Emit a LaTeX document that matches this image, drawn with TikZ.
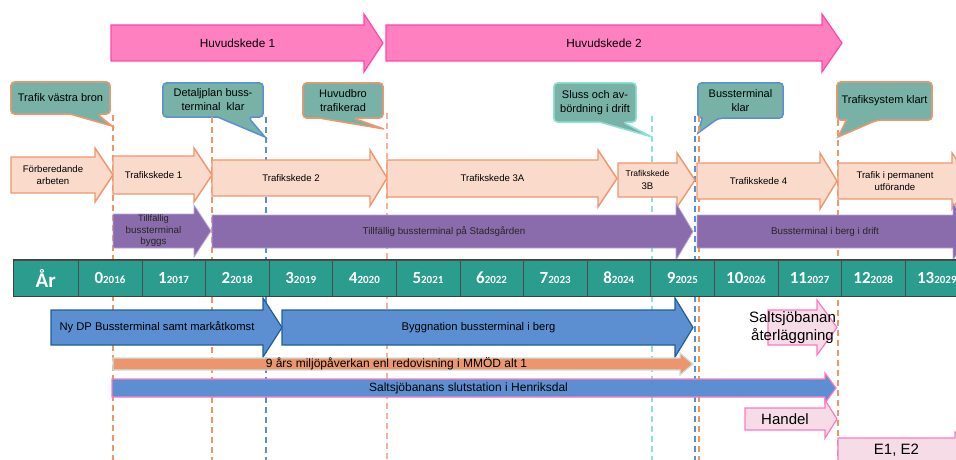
\documentclass[tikz,border=0pt]{standalone}
\usepackage{fontspec}
\setmainfont{Liberation Sans}
\newfontfamily\kalibri{Carlito}
\usetikzlibrary{calc,backgrounds}

\definecolor{huvudrosa}{RGB}{255,128,192}
\definecolor{huvudkant}{RGB}{255,70,170}
\definecolor{kedefyll}{RGB}{250,218,203}
\definecolor{kedekant}{RGB}{240,150,110}
\definecolor{lila}{RGB}{138,108,172}
\definecolor{lilakant}{RGB}{185,165,212}
\definecolor{blafyll}{RGB}{91,143,210}
\definecolor{blakant}{RGB}{30,95,150}
\definecolor{laxfyll}{RGB}{237,150,110}
\definecolor{laxkant}{RGB}{200,225,220}
\definecolor{ljusrosa}{RGB}{245,220,230}
\definecolor{rosakant}{RGB}{255,120,195}
\definecolor{bubbelgron}{RGB}{120,178,166}
\definecolor{arteal}{RGB}{42,157,143}
\definecolor{markorange}{RGB}{240,150,100}
\definecolor{markljus}{RGB}{245,180,155}
\definecolor{markbla}{RGB}{91,143,210}
\definecolor{markcyan}{RGB}{142,227,216}

\tikzset{
  huvud/.style={draw=huvudkant, fill=huvudrosa, line width=1.2pt},
  huvud text/.style={font=\fontsize{11.8}{13}\selectfont},
  kede/.style={draw=kedekant, fill=kedefyll, line width=1.4pt},
  kede text/.style={font=\fontsize{9.6}{12.5}\selectfont, align=center},
  lila/.style={draw=lilakant, fill=lila, line width=.8pt},
  lila text/.style={font=\fontsize{9.8}{11.5}\selectfont, align=center, text=black!85},
  bla/.style={draw=blakant, fill=blafyll, line width=1.2pt},
  bla text/.style={font=\fontsize{11.2}{12}\selectfont},
  lax/.style={draw=laxkant, fill=laxfyll, line width=1.2pt},
  lax text/.style={font=\fontsize{12}{12}\selectfont},
  salt/.style={draw=rosakant, fill=blafyll, line width=1.2pt},
  salt text/.style={font=\fontsize{12}{12}\selectfont},
  rosa/.style={draw=rosakant, fill=ljusrosa, line width=1.2pt},
  rosa text/.style={font=\fontsize{15}{18}\selectfont, align=center},
  arcell/.style={draw=black!70, fill=arteal, text=white, minimum width=63.6,
    minimum height=36, inner sep=0, font=\kalibri\bfseries},
  milstolpe/.style={line width=2.4pt, dash pattern=on 6pt off 4pt},
  bubbeltext/.style={inner sep=0, align=center, font=\fontsize{11}{14}\selectfont},
  bubbla orange/.style={fill=bubbelgron, draw=kedekant, line width=1.5pt},
  bubbla bla/.style={fill=bubbelgron, draw=markbla, line width=1.5pt},
  bubbla cyan/.style={fill=bubbelgron, draw=markcyan, line width=1.5pt}
}

% stor pil: stil, namn, x vanster, x hals, x spets, y topp, y botten, huvudets overhang, text
\newcommand{\pil}[9]{%
  \draw[#1] (#3,#6) -- (#4,#6) -- (#4,#6-#8) -- (#5,{(#6+#7)/2}) -- (#4,#7+#8) -- (#4,#7) -- (#3,#7) -- cycle;
  \node[#1 text] (#2) at ({(#3+#4)/2},{(#6+#7)/2}) {#9};
}
% pratbubbla runt en nod: stil, nod, bas fran, bas till (andel av underkanten), spets
\newcommand{\bubbla}[5]{%
  \begin{pgfonlayer}{background}
  \filldraw[#1] ($(#2.south west)!#3!(#2.south east)$) [rounded corners=4pt] -- (#2.south west)
    -- (#2.north west) -- (#2.north east) -- (#2.south east)
    -- ($(#2.south west)!#4!(#2.south east)$) [sharp corners] -- (#5) -- cycle;
  \end{pgfonlayer}
}

\begin{document}
\begin{tikzpicture}[x=1pt,y=-1pt]
  \useasboundingbox (0,0) rectangle (956,460);
  \clip (0,0) rectangle (956,460);

  % milstolpar
  \coordinate (botten) at (0,460);
  \coordinate (m0) at (113,115);
  \coordinate (m1) at (212,117);
  \coordinate (m2) at (266,117);
  \coordinate (m3) at (387,113);
  \coordinate (m4) at (652,116);
  \coordinate (m5) at (695,116);
  \coordinate (m6) at (699,116);
  \coordinate (m7) at (838,120);
  \foreach \m/\f in {m0/markorange,m1/markorange,m2/markbla,m3/markljus,
                     m4/markcyan,m5/markbla,m6/markorange,m7/markorange} {
    \draw[milstolpe, draw=\f] (\m) -- (\m |- botten);
  }

  % huvudskeden
  \pil{huvud}{hs1}{111}{364}{383}{25}{61}{11}{Huvudskede 1}
  \pil{huvud}{hs2}{386}{822}{842}{25}{61}{11}{Huvudskede 2}

  % trafikskeden
  \pil{kede}{forbered}{11}{95}{113}{157}{193}{9}{Förberedande\\arbeten}
  \pil{kede}{ts1}{113}{194}{212}{156}{194}{8}{Trafikskede 1}
  \pil{kede}{ts2}{212}{370}{387}{160}{196}{10}{Trafikskede 2}
  \pil{kede}{ts3a}{387}{598}{617}{160}{197}{10}{Trafikskede 3A}
  \pil{kede}{ts3b}{618}{677}{695}{163}{197}{10}{\fontsize{8.5}{10.5}\selectfont Trafikskede\\3B}
  \pil{kede}{ts4}{697}{820}{837}{163}{199}{10}{Trafikskede 4}
  \pil{kede}{permanent}{838}{952}{972}{163}{199}{10}{Trafik i permanent\\utförande}

  % bussterminal
  \pil{lila}{tillfbyggs}{113}{194}{211}{214}{248}{9}{\fontsize{9.3}{11.5}\selectfont Tillfällig\\bussterminal\\byggs}
  \pil{lila}{stadsgarden}{212}{676}{693}{215}{248}{12}{Tillfällig bussterminal på Stadsgården}
  \pil{lila}{iberg}{697}{953}{972}{215}{248}{12}{Bussterminal i berg i drift}

  % tidsaxel
  \node[arcell, minimum width=65, anchor=west] (ar) at (13,278) {\fontsize{21}{21}\selectfont År};
  \foreach \i in {0,...,13} {
    \pgfmathtruncatemacro{\artal}{2016+\i}
    \node[arcell, anchor=west] (ar\i) at ({78+63.6*\i},278)
      {\fontsize{17}{17}\selectfont\i\fontsize{11}{11}\selectfont\artal};
  }
  \draw[line width=1pt, black!75] (ar.north west) rectangle (ar13.south east);

  % under tidsaxeln
  \pil{bla}{nydp}{51}{263}{282}{310}{345}{12}{Ny DP Bussterminal samt markåtkomst}
  \pil{bla}{byggnation}{282}{675}{693}{310}{345}{12}{Byggnation bussterminal i berg}
  \pil{lax}{miljo}{113}{680}{693}{358}{370}{5}{9 års miljöpåverkan enl redovisning i MMÖD alt 1}
  \pil{salt}{slutstation}{112}{825}{836}{379}{397}{6}{Saltsjöbanans slutstation i Henriksdal}
  \pil{rosa}{aterlagg}{768}{817}{837}{310}{345}{10}{Saltsjöbanan\\återläggning}
  \pil{rosa}{handel}{745}{825}{837}{408}{430}{8}{Handel}
  \pil{rosa}{e1e2}{838}{955}{975}{438}{462}{6}{E1, E2}

  % pratbubblor
  \node[bubbeltext, minimum width=99, minimum height=32] (vastrabron) at (60.5,98) {Trafik västra bron};
  \bubbla{bubbla orange}{vastrabron}{0.6}{0.87}{112,126}
  \node[bubbeltext, minimum width=100, minimum height=34] (detaljplan) at (213,100) {Detaljplan buss-\\terminal~~klar};
  \bubbla{bubbla bla}{detaljplan}{0.55}{0.85}{265,137}
  \node[bubbeltext, minimum width=80, minimum height=35] (huvudbro) at (343,100.5) {Huvudbro\\trafikerad};
  \bubbla{bubbla orange}{huvudbro}{0.21}{0.63}{384,129}
  \node[bubbeltext, minimum width=82, minimum height=39] (sluss) at (595,102.5) {Sluss och av-\\bördning i drift};
  \bubbla{bubbla cyan}{sluss}{0.56}{0.84}{652,137}
  \node[bubbeltext, minimum width=85, minimum height=35] (bussklar) at (740.5,100.5) {Bussterminal\\klar};
  \bubbla{bubbla bla}{bussklar}{0.05}{0.24}{698,133}
  \node[bubbeltext, minimum width=95, minimum height=38] (trafiksystem) at (884.5,101) {Trafiksystem klart};
  \bubbla{bubbla orange}{trafiksystem}{0.1}{0.42}{838,137}
\end{tikzpicture}
\end{document}
